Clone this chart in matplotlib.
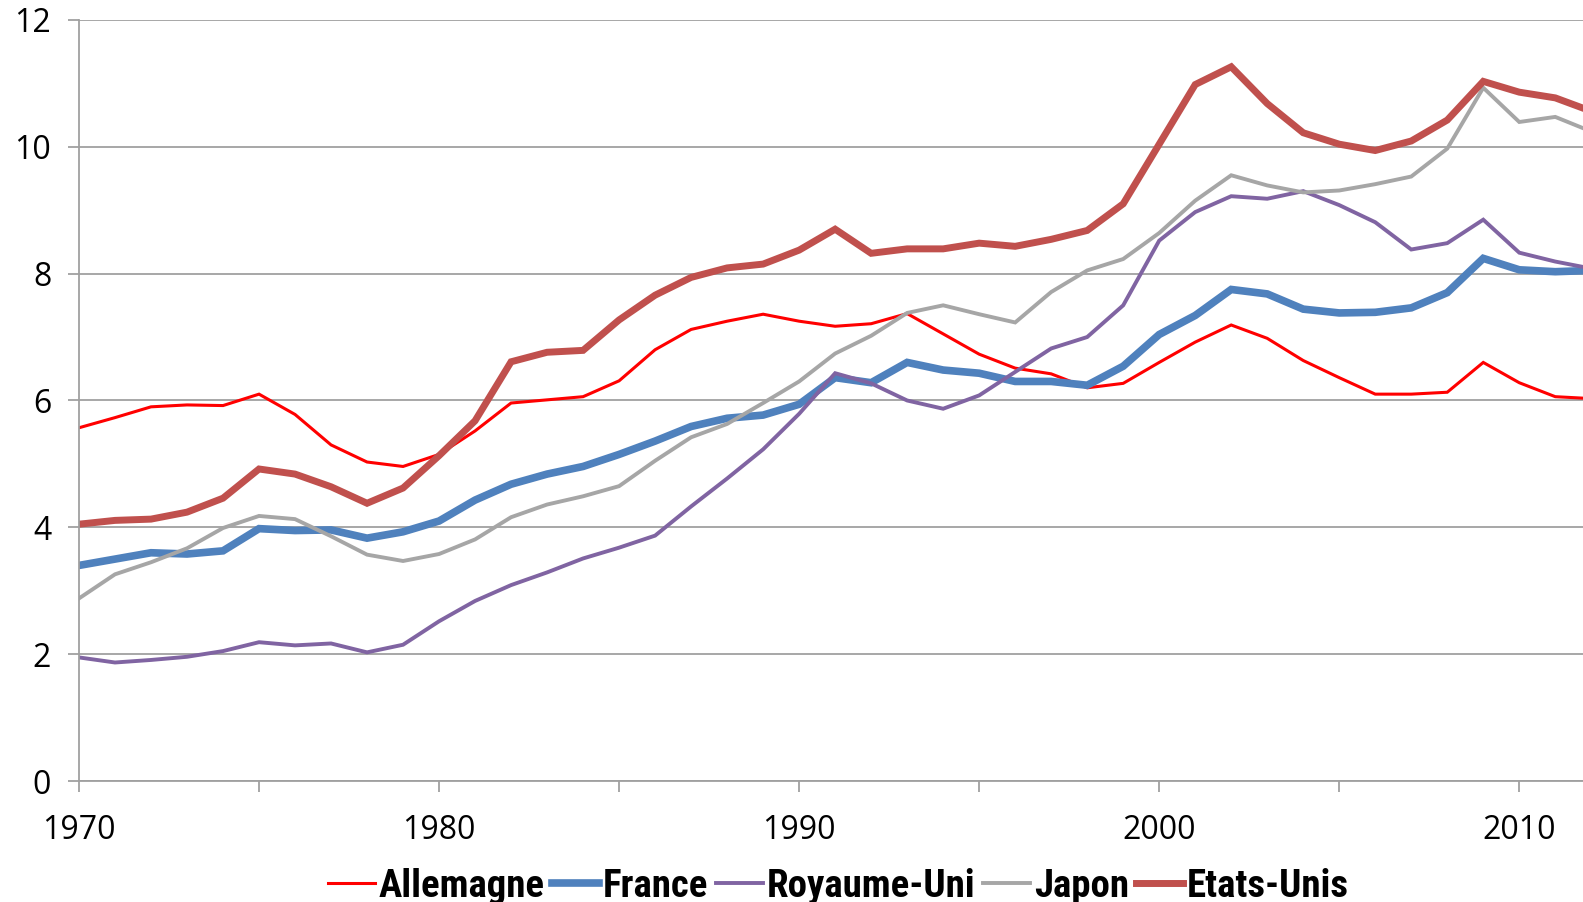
import numpy as np
import matplotlib
matplotlib.use("Agg")
import matplotlib.pyplot as plt

# Données
annees = list(range(1970, 2013))

allemagne = [5.57, 5.73, 5.90, 5.93, 5.92, 6.10, 5.78, 5.30, 5.03, 4.96,
             5.15, 5.52, 5.96, 6.01, 6.06, 6.31, 6.80, 7.12, 7.25, 7.36,
             7.25, 7.17, 7.21, 7.37, 7.05, 6.73, 6.51, 6.42, 6.20, 6.27,
             6.60, 6.92, 7.19, 6.98, 6.63, 6.36, 6.10, 6.10, 6.13, 6.60,
             6.28, 6.06, 6.03]
france = [3.40, 3.50, 3.60, 3.58, 3.63, 3.98, 3.95, 3.96, 3.83, 3.93,
          4.10, 4.43, 4.68, 4.84, 4.96, 5.15, 5.36, 5.59, 5.72, 5.77,
          5.94, 6.36, 6.28, 6.60, 6.48, 6.43, 6.30, 6.30, 6.24, 6.54,
          7.04, 7.34, 7.75, 7.68, 7.44, 7.38, 7.39, 7.46, 7.70, 8.24,
          8.06, 8.03, 8.05]
royaume_uni = [1.95, 1.87, 1.91, 1.96, 2.05, 2.19, 2.14, 2.17, 2.03, 2.15,
               2.52, 2.84, 3.09, 3.29, 3.51, 3.68, 3.87, 4.33, 4.77, 5.23,
               5.79, 6.43, 6.27, 6.00, 5.87, 6.08, 6.45, 6.82, 7.00, 7.50,
               8.52, 8.97, 9.22, 9.18, 9.30, 9.08, 8.81, 8.38, 8.48, 8.85,
               8.33, 8.19, 8.08]
japon = [2.88, 3.26, 3.45, 3.67, 3.99, 4.18, 4.13, 3.86, 3.57, 3.47,
         3.58, 3.81, 4.16, 4.36, 4.49, 4.65, 5.05, 5.42, 5.63, 5.96,
         6.30, 6.74, 7.02, 7.38, 7.50, 7.36, 7.23, 7.71, 8.05, 8.23,
         8.64, 9.15, 9.55, 9.39, 9.28, 9.31, 9.41, 9.53, 9.97, 10.93,
         10.39, 10.47, 10.24]
etats_unis = [4.05, 4.11, 4.13, 4.24, 4.46, 4.92, 4.84, 4.64, 4.38, 4.62,
              5.13, 5.68, 6.61, 6.76, 6.79, 7.27, 7.66, 7.94, 8.09, 8.15,
              8.37, 8.70, 8.32, 8.39, 8.39, 8.48, 8.43, 8.54, 8.68, 9.10,
              10.04, 10.98, 11.26, 10.68, 10.22, 10.04, 9.94, 10.09, 10.42, 11.03,
              10.86, 10.77, 10.56]

series = [
    ("Allemagne", allemagne, "#FF0000", 2.2),
    ("France", france, "#4F81BD", 5.5),
    ("Royaume-Uni", royaume_uni, "#8064A2", 2.8),
    ("Japon", japon, "#A6A6A6", 2.8),
    ("Etats-Unis", etats_unis, "#C0504D", 5.0),
]

fig = plt.figure(figsize=(15.83, 9.02), dpi=100)
ax = fig.add_axes([0.0499, 0.134, 0.9501, 0.844])

for nom, valeurs, couleur, lw in series:
    ax.plot(annees, valeurs, color=couleur, linewidth=lw, label=nom,
            solid_joinstyle="miter")

# Axes et grille
ax.set_xlim(1970, 2011.77)
ax.set_ylim(0, 12)
ax.set_yticks(np.arange(0, 13, 2))
ax.set_xticks(np.arange(1970, 2015, 5))
ax.set_xticklabels([str(a) if a % 10 == 0 else "" for a in range(1970, 2015, 5)])
ax.yaxis.grid(True, color="#A0A0A0", linewidth=1.3)
ax.set_axisbelow(True)
for cote in ["top", "right"]:
    ax.spines[cote].set_visible(False)
for cote in ["left", "bottom"]:
    ax.spines[cote].set_color("#A0A0A0")
    ax.spines[cote].set_linewidth(1.3)
ax.tick_params(axis="both", colors="#A0A0A0", length=8, width=1.3,
               labelcolor="black", labelsize=23)
ax.tick_params(axis="x", pad=16)
ax.tick_params(axis="y", pad=12)
for lab in ax.get_xticklabels() + ax.get_yticklabels():
    lab.set_family(["Open Sans", "DejaVu Sans"])

# Légende en bas
leg = ax.legend(loc="upper center", bbox_to_anchor=(0.505, -0.068), ncol=5,
                frameon=False, handlelength=1.2, handletextpad=0.1,
                columnspacing=0.2,
                prop={"family": ["Liberation Sans Narrow", "Roboto Condensed",
                                 "Open Sans Condensed", "Roboto", "DejaVu Sans"],
                      "weight": "bold", "size": 28})

fig.savefig("out.png", dpi=100)
